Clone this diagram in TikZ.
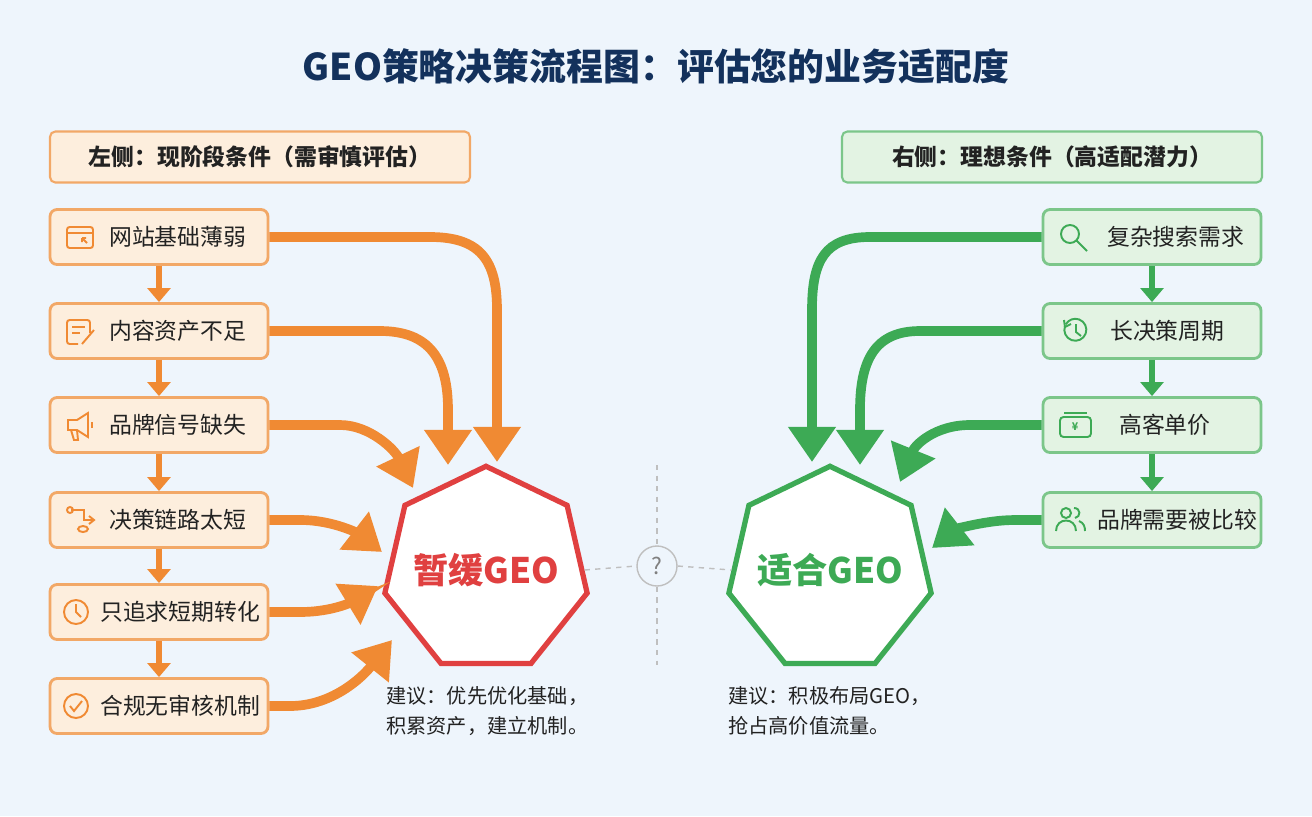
\documentclass[tikz,border=0pt]{standalone}
\usepackage{fontspec}
\setmainfont{Noto Sans CJK SC}
\usepackage{tikz}
\usetikzlibrary{positioning,arrows.meta,shapes.geometric}
\definecolor{bgblue}{HTML}{EEF5FC}
\definecolor{navy}{HTML}{13315C}
\definecolor{orng}{HTML}{F08A33}
\definecolor{orngl}{HTML}{FDEEDD}
\definecolor{orngb}{HTML}{F2A867}
\definecolor{grn}{HTML}{3DAA55}
\definecolor{grnl}{HTML}{E3F3E3}
\definecolor{grnb}{HTML}{7CC68A}
\definecolor{redc}{HTML}{E04040}
\definecolor{txt}{HTML}{222222}

\tikzset{
  lbox/.style={draw=orngb,fill=orngl,line width=1.6pt,rounded corners=4pt,minimum width=4.36cm,minimum height=1.1cm},
  rbox/.style={draw=grnb,fill=grnl,line width=1.6pt,rounded corners=4pt,minimum width=4.36cm,minimum height=1.1cm},
  lbl/.style={text=txt,font=\fontsize{13}{15}\selectfont,anchor=west},
  flowstep/.style={line width=3pt,-{Triangle[length=8pt,width=13pt]}},
  big/.style={line width=5.5pt,-{Triangle[length=20pt,width=26pt]}},
  hepta/.style={regular polygon,regular polygon sides=7,minimum size=4.15cm,inner sep=0pt,line width=3pt,fill=white},
  bigtxt/.style={font=\bfseries\fontsize{20}{22}\selectfont},
  ico/.style={line width=1.1pt}
}

\begin{document}
\begin{tikzpicture}[x=0.02cm,y=-0.02cm]
  \fill[bgblue] (0,0) rectangle (1312,816);
  \node[font=\bfseries\fontsize{21}{24}\selectfont,text=navy] (title) at (656,66) {GEO策略决策流程图：评估您的业务适配度};

  % headers
  \node[draw=orngb,fill=orngl,line width=1.2pt,rounded corners=3pt,minimum width=8.4cm,minimum height=1.02cm,
        font=\bfseries\fontsize{13}{15}\selectfont,text=txt] (lhead) at (260,157) {左侧：现阶段条件（需审慎评估）};
  \node[draw=grnb,fill=grnl,line width=1.2pt,rounded corners=3pt,minimum width=8.4cm,minimum height=1.02cm,
        font=\bfseries\fontsize{13}{15}\selectfont,text=txt] (rhead) at (1052,157) {右侧：理想条件（高适配潜力）};

  % left column
  \foreach \n/\y in {l1/237,l2/331,l3/425,l4/520,l5/612,l6/706}
    \node[lbox] (\n) at (159,\y) {};
  \node[lbl] at (103,237) {网站基础薄弱};
  \node[lbl] at (103,331) {内容资产不足};
  \node[lbl] at (103,425) {品牌信号缺失};
  \node[lbl] at (103,520) {决策链路太短};
  \node[lbl] at (94,612) {只追求短期转化};
  \node[lbl] at (94,706) {合规无审核机制};
  \foreach \a/\b in {l1/l2,l2/l3,l3/l4,l4/l5,l5/l6}
    \draw[flowstep,orng] (\a.south) -- (\b.north);

  % left icons
  \begin{scope}[orng,ico]
    \draw[rounded corners=1.5pt] (67,227) rectangle (93,248);
    \draw (67,233) -- (93,233);
    \draw (82,238) -- (87,243) (82,238) -- (82,242) (82,238) -- (86,238);
    \draw[rounded corners=1.5pt] (90,333) -- (90,320) -- (67,320) -- (67,344) -- (78,344);
    \draw (72,327) -- (85,327) (72,333) -- (80,333);
    \draw (82,344) -- (94,330);
    \draw (68,420) -- (77,420) -- (88,413) -- (88,437) -- (77,430) -- (68,430) -- cycle;
    \draw (71,430) -- (74,440) -- (78,440) -- (77,430);
    \draw (92,422) -- (92,428);
    \draw (70,510) circle (3) (71,510) -- (84,510) -- (84,520) -- (94,520);
    \draw (89,516) -- (94,520) -- (89,524);
    \draw (83,529) ellipse (5 and 3);
    \draw (76,612) circle (12) (76,604) -- (76,612) -- (81,617);
    \draw (76,706) circle (12) (70,706) -- (74,711) -- (82,701);
  \end{scope}

  % right column
  \foreach \n/\y in {r1/237,r2/331,r3/425,r4/520}
    \node[rbox] (\n) at (1152,\y) {};
  \node[lbl] at (1101,237) {复杂搜索需求};
  \node[lbl] at (1104,331) {长决策周期};
  \node[lbl] at (1113,425) {高客单价};
  \node[lbl] at (1091,520) {品牌需要被比较};
  \foreach \a/\b in {r1/r2,r2/r3,r3/r4}
    \draw[flowstep,grn] (\a.south) -- (\b.north);

  % right icons
  \begin{scope}[grn,ico]
    \draw (1070,234) circle (9) (1077,241) -- (1087,251);
    \draw (1065,326) arc (200:-150:11);
    \draw (1064,320) -- (1065,327) -- (1071,324);
    \draw (1076,324) -- (1076,332) -- (1081,336);
    \draw[rounded corners=2pt] (1060,417) rectangle (1091,437);
    \draw (1064,413) -- (1087,413);
    \node[font=\fontsize{6}{6}\selectfont\bfseries] at (1075,427) {¥};
    \draw (1066,513) circle (5);
    \draw (1056,531) .. controls (1056,517) and (1076,517) .. (1076,531);
    \draw (1074,508) .. controls (1081,508) and (1081,517) .. (1075,518);
    \draw (1079,521) .. controls (1084,523) and (1085,527) .. (1085,531);
  \end{scope}

  % centre shapes
  \node[hepta,draw=redc] (hold) at (486,570) {};
  \node[bigtxt,text=redc] (holdtxt) at (hold.center) {暂缓GEO};
  \node[hepta,draw=grn] (fit) at (830,570) {};
  \node[bigtxt,text=grn] (fittxt) at (fit.center) {适合GEO};
  \node[circle,draw=gray!50,fill=bgblue,line width=0.8pt,minimum size=0.8cm,text=gray,
        font=\fontsize{13}{14}\selectfont] (q) at (657,566) {?};
  \coordinate (vtop) at (657,465);
  \coordinate (vbot) at (657,665);
  \draw[gray!50,dashed,line width=0.8pt] (vtop) -- (q.north) (q.south) -- (vbot);
  \draw[gray!50,dashed,line width=0.8pt] (hold.east) -- (q.west) (q.east) -- (fit.west);

  % notes
  \node[text=txt,font=\fontsize{11.5}{17}\selectfont,align=left,anchor=north west] (lnote) at (380,680)
    {建议：优先优化基础，\\积累资产，建立机制。};
  \node[text=txt,font=\fontsize{11.5}{17}\selectfont,align=left,anchor=north west] (rnote) at (722,680)
    {建议：积极布局GEO，\\抢占高价值流量。};

  % left big arrows
  \coordinate (h1) at (497,462);
  \coordinate (h2) at (448,465);
  \coordinate (h3) at (413,488);
  \coordinate (h4) at (382,552);
  \coordinate (h5) at (378,586);
  \coordinate (h6) at (392,640);
  \begin{scope}[orng,big]
    \draw (l1.east) -- (430,237) .. controls (480,237) and (497,260) .. (497,310) -- (h1);
    \draw (l2.east) -- (380,331) .. controls (430,331) and (448,360) .. (448,410) -- (h2);
    \draw (l3.east) -- (340,425) .. controls (370,425) and (395,450) .. (h3);
    \draw (l4.east) -- (300,520) .. controls (335,520) and (360,535) .. (h4);
    \draw (l5.east) -- (300,612) .. controls (335,612) and (355,600) .. (h5);
    \draw (l6.east) -- (290,706) .. controls (330,706) and (360,680) .. (h6);
  \end{scope}

  % right big arrows
  \coordinate (g1) at (812,462);
  \coordinate (g2) at (860,465);
  \coordinate (g3) at (900,482);
  \coordinate (g4) at (932,548);
  \begin{scope}[grn,big]
    \draw (r1.west) -- (870,237) .. controls (825,237) and (812,260) .. (812,310) -- (g1);
    \draw (r2.west) -- (920,331) .. controls (875,331) and (860,360) .. (860,410) -- (g2);
    \draw (r3.west) -- (970,425) .. controls (935,425) and (915,445) .. (g3);
    \draw (r4.west) -- (1015,520) .. controls (985,520) and (955,530) .. (g4);
  \end{scope}
\end{tikzpicture}
\end{document}
